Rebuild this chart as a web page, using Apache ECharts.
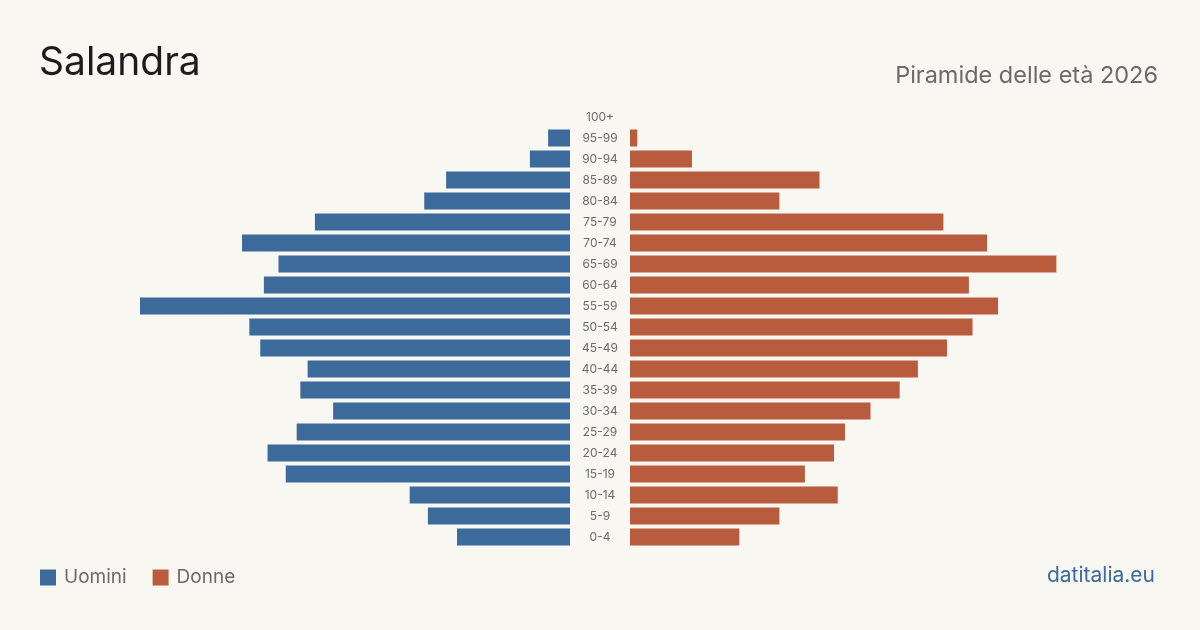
<!DOCTYPE html>
<html>
<head>
<meta charset="utf-8">
<style>
  html, body { margin: 0; padding: 0; background: #f9f7f2; }
  #chart { width: 1200px; height: 630px; }
</style>
<script src="https://cdn.jsdelivr.net/npm/echarts@6/dist/echarts.min.js"></script>
</head>
<body>
<div id="chart"></div>
<script>
// age groups, bottom to top
const ageGroups = ['0-4', '5-9', '10-14', '15-19', '20-24', '25-29', '30-34', '35-39', '40-44', '45-49',
  '50-54', '55-59', '60-64', '65-69', '70-74', '75-79', '80-84', '85-89', '90-94', '95-99', '100+']

// residents per age group
const uomini = [31, 39, 44, 78, 83, 75, 65, 74, 72, 85, 88, 118, 84, 80, 90, 70, 40, 34, 11, 6, 0]
const donne = [30, 41, 57, 48, 56, 59, 66, 74, 79, 87, 94, 101, 93, 117, 98, 86, 41, 52, 17, 2, 0]

const maxValue = Math.max(...uomini, ...donne)

const fontFamily = 'Inter, "Noto Sans", sans-serif'
const colors = {
  uomini: '#3c6a9b',
  donne: '#b95c3d',
  text: '#1c1c1c',
  muted: '#6b6b6b',
  brand: '#3a6a9e',
}

const chart = echarts.init(document.getElementById('chart'))

const option = {
  backgroundColor: '#f9f7f2',
  textStyle: { fontFamily },
  title: [
    {
      text: 'Salandra',
      left: 39,
      top: 44,
      padding: 0,
      textStyle: { fontSize: 39, fontWeight: 400, color: colors.text, fontFamily },
    },
    {
      text: 'Piramide delle età 2026',
      right: 42,
      top: 64,
      padding: 0,
      textStyle: { fontSize: 23.5, fontWeight: 400, color: colors.muted, fontFamily },
    },
    {
      text: 'datitalia.eu',
      right: 45,
      top: 565,
      padding: 0,
      textStyle: { fontSize: 21, fontWeight: 400, color: colors.brand, fontFamily },
    },
  ],
  legend: {
    left: 40,
    top: 568,
    padding: 0,
    icon: 'rect',
    itemWidth: 16,
    itemHeight: 16,
    itemGap: 26,
    textStyle: { fontSize: 19, color: colors.muted, fontFamily, padding: [0, 0, 0, 3] },
    data: ['Uomini', 'Donne'],
  },
  grid: [
    { left: 140, width: 430, top: 106.5, height: 441 },
    { left: 630, width: 430, top: 106.5, height: 441 },
  ],
  xAxis: [
    { gridIndex: 0, type: 'value', inverse: true, min: 0, max: maxValue, show: false },
    { gridIndex: 1, type: 'value', min: 0, max: maxValue, show: false },
  ],
  yAxis: [
    {
      gridIndex: 0,
      type: 'category',
      position: 'right',
      data: ageGroups,
      axisLine: { show: false },
      axisTick: { show: false },
      axisLabel: { margin: 30, align: 'center', fontSize: 12, color: colors.muted, fontFamily },
    },
    {
      gridIndex: 1,
      type: 'category',
      data: ageGroups,
      axisLine: { show: false },
      axisTick: { show: false },
      axisLabel: { show: false },
    },
  ],
  series: [
    {
      name: 'Uomini',
      type: 'bar',
      xAxisIndex: 0,
      yAxisIndex: 0,
      data: uomini,
      barWidth: 17,
      itemStyle: { color: colors.uomini },
      silent: true,
    },
    {
      name: 'Donne',
      type: 'bar',
      xAxisIndex: 1,
      yAxisIndex: 1,
      data: donne,
      barWidth: 17,
      itemStyle: { color: colors.donne },
      silent: true,
    },
  ],
}

chart.setOption(option)
</script>
</body>
</html>
